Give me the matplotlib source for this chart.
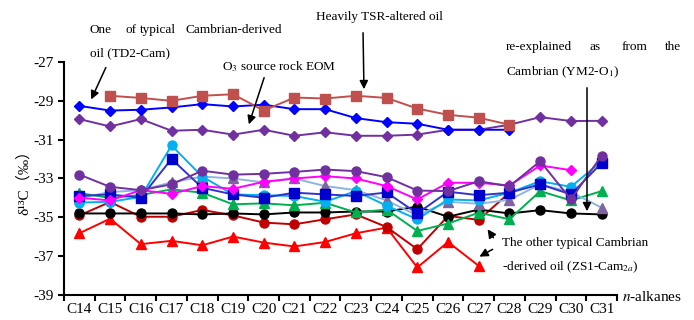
import numpy as np
import matplotlib.pyplot as plt

plt.rcParams['font.family'] = ['Liberation Serif', 'Noto Sans CJK SC', 'DejaVu Sans']
plt.rcParams['mathtext.fontset'] = 'stix'

labels = ['C%d' % i for i in range(14, 32)]
N = None

# d13C values per n-alkane, C14..C31 (None = not measured)
tsr_sq = [N, -28.74, -28.85, -29.0, -28.74, -28.66, -29.5, -28.83, -28.88, -28.74, -28.85,
          -29.4, -29.72, -29.87, -30.23, N, N, N]
td2_dia = [-29.26, -29.5, -29.46, -29.34, -29.17, -29.29, -29.2, -29.43, -29.43, -29.89, -30.1,
           -30.18, -30.49, -30.49, -30.49, N, N, N]
eom_dia = [-29.94, -30.32, -29.94, -30.54, -30.49, -30.74, -30.49, -30.8, -30.62, -30.8, -30.8,
           -30.74, -30.49, -30.49, -30.23, -29.84, -30.04, -30.03]
pur_circ = [-32.8, -33.43, -33.6, -33.3, -32.6, -32.8, -32.76, -32.66, -32.54, -32.62, -32.93,
            -33.62, -33.65, -33.14, -33.4, -32.11, -34.08, -31.82]
mag_dia = [-33.99, -34.13, -33.6, -33.79, -33.39, -33.53, -33.17, -33.0, -32.88, -33.0, -33.39,
           -34.08, -33.22, -33.22, -33.36, -32.33, -32.57, N]
blue_sq = [-33.9, -33.82, -33.99, -31.99, -33.48, -33.82, -33.99, -33.73, -33.82, -33.9, -33.72,
           -34.8, -33.68, -33.86, -33.73, -33.3, -33.82, -32.2]
cyan_circ = [-34.24, -34.2, -33.95, -31.3, -32.9, -33.82, -33.86, -33.9, -34.2, -33.65, -34.4,
             -35.1, -34.08, -34.13, -33.73, -33.14, -33.43, -32.11]
pur_tri = [-34.0, -33.7, -33.6, -33.2, -32.9, -33.0, -33.2, -33.0, -33.39, -33.6, -34.13,
           -34.9, -34.2, -34.3, -34.1, -33.3, -33.7, -34.5]
green_tri = [-33.75, -34.0, -33.85, -33.56, -33.73, -34.33, -34.28, -34.38, -34.25, -34.75, -34.6,
             -35.7, -35.32, -34.76, -35.1, -33.65, -34.13, -33.65]
black_circ = [-34.8, -34.8, -34.8, -34.8, -34.85, -34.8, -34.85, -34.75, -34.75, -34.7, -34.7,
              -34.45, -34.97, -34.6, -34.8, -34.63, -34.8, -34.85]
dred_circ = [-34.9, -34.21, -34.97, -34.97, -34.62, -34.9, -35.27, -35.36, -35.1, -34.85, -35.5,
             -36.64, -34.93, -35.13, -33.73, N, N, N]
red_tri = [-35.82, -35.07, -36.38, -36.21, -36.44, -35.99, -36.3, -36.5, -36.27, -35.82, -35.53,
           -37.58, -36.27, -37.5, N, N, N, N]

series = [
    (red_tri, '#FF0000', '#FF0000', '^'),
    (dred_circ, '#C00000', '#C00000', 'o'),
    (black_circ, 'black', 'black', 'o'),
    (green_tri, '#00B050', '#00B050', '^'),
    (pur_tri, '#8DB4E2', '#8064A2', '^'),
    (cyan_circ, '#00B0F0', '#00B0F0', 'o'),
    (blue_sq, '#3333CC', '#0000CC', 's'),
    (mag_dia, '#FF00FF', '#FF00FF', 'D'),
    (pur_circ, '#7030A0', '#7030A0', 'o'),
    (eom_dia, '#7030A0', '#7030A0', 'D'),
    (td2_dia, '#0000FF', '#0000FF', 'D'),
    (tsr_sq, '#C0504D', '#C0504D', 's'),
]

fig = plt.figure(figsize=(6.94, 3.2), dpi=100)
ax = fig.add_axes([64/694, 1-295/320, (617-64)/694, (295-62)/320])
x = np.arange(len(labels))
for vals, lc, mc, m in series:
    y = np.array([np.nan if v is None else v for v in vals])
    ms = 6.5 if m != 'D' else 5.5
    ax.plot(x, y, color=lc, lw=1.4, marker=m, ms=ms, mfc=mc, mec=mc, zorder=3)

ax.set_xlim(-0.5, len(labels)-0.5)
ax.set_ylim(-39, -27)
ax.set_yticks(np.arange(-39, -26, 2))
ax.set_yticklabels([str(v) for v in range(-39, -26, 2)], fontsize=11)
ax.set_xticks(x)
ax.set_xticklabels(labels, fontsize=11)
ax.set_xticks(np.arange(-0.5, len(labels), 1), minor=True)
ax.tick_params(axis='x', which='major', length=0, pad=6)
ax.tick_params(axis='x', which='minor', length=4, width=1.5, direction='out')
ax.tick_params(axis='y', length=4, width=1.5, direction='out')
for s in ['top', 'right']:
    ax.spines[s].set_visible(False)
for s in ['left', 'bottom']:
    ax.spines[s].set_linewidth(1.5)

ax.set_ylabel('δ¹³C（‰）', fontsize=11, labelpad=2)


def P(px, py):
    return (px/694, 1-py/320)


fs = 9.5
for w, px in [('One', 90), ('of', 125), ('typical', 140), ('Cambrian-derived', 185)]:
    fig.text(*P(px, 30), w, fontsize=fs, va='center')
fig.text(*P(90, 53), 'oil (TD2-Cam)', fontsize=fs, va='center')
fig.text(*P(222, 67), 'O$_3$ source rock EOM', fontsize=fs, va='center')
fig.text(*P(316, 17), 'Heavily TSR-altered oil', fontsize=fs, va='center')
for w, px in [('re-explained', 506), ('as', 590), ('from', 622), ('the', 665)]:
    fig.text(*P(px, 47), w, fontsize=fs, va='center')
fig.text(*P(506, 72), 'Cambrian (YM2-O$_1$)', fontsize=fs, va='center')
fig.text(*P(502, 243), 'The other typical Cambrian', fontsize=fs, va='center')
fig.text(*P(502, 267), '-derived oil (ZS1-Cam$_{2a}$)', fontsize=fs, va='center')
fig.text(*P(622, 297), '$n$-alkanes', fontsize=11, va='center')

arr = dict(arrowstyle='-|>,head_length=0.5,head_width=0.25', color='black', lw=1.1)
for tail, head in [((107, 65), (90, 102)), ((265, 75), (248, 127)), ((363, 30), (364, 92)),
                   ((587, 85), (587, 214)), ((495, 240), (486, 227)), ((495, 248), (477, 258))]:
    ax.annotate('', xy=P(*head), xycoords='figure fraction', xytext=P(*tail),
                textcoords='figure fraction', arrowprops=arr)

fig.savefig('out.png', dpi=100)
